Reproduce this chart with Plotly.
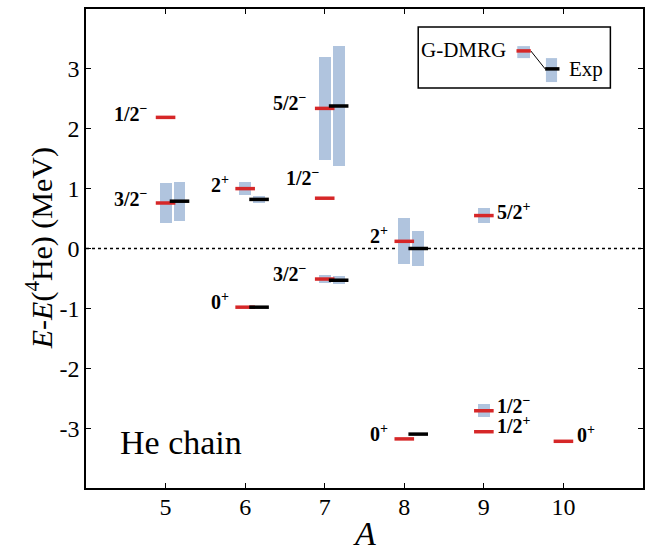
import plotly.graph_objects as go

# ---------------- data ----------------
# G-DMRG levels (MeV relative to 4He) and widths (full width, 0 = none shown)
dmrg_A = [5, 5, 6, 6, 7, 7, 7, 8, 8, 9, 9, 9, 10]
dmrg_E = [2.19, 0.76, 1.00, -0.98, 2.34, 0.84, -0.51, 0.12, -3.18, 0.55, -2.71, -3.06, -3.22]
dmrg_G = [0.0, 0.68, 0.21, 0.0, 1.73, 0.0, 0.14, 0.77, 0.0, 0.24, 0.21, 0.0, 0.0]

# Experimental levels and widths
exp_A = [5, 6, 6, 7, 7, 8, 8]
exp_E = [0.79, 0.82, -0.98, 2.38, -0.53, 0.00, -3.10]
exp_G = [0.65, 0.11, 0.0, 1.99, 0.14, 0.59, 0.0]

# State labels
label_text = ["1/2<sup>−</sup>", "3/2<sup>−</sup>", "2<sup>+</sup>", "0<sup>+</sup>",
              "5/2<sup>−</sup>", "1/2<sup>−</sup>", "3/2<sup>−</sup>", "2<sup>+</sup>",
              "0<sup>+</sup>", "5/2<sup>+</sup>", "1/2<sup>−</sup>", "1/2<sup>+</sup>", "0<sup>+</sup>"]
label_x = [4.80, 4.80, 5.82, 5.82, 6.80, 6.96, 6.80, 7.82, 7.82, 9.14, 9.14, 9.14, 10.14]
label_y = [2.27, 0.85, 1.08, -0.88, 2.44, 1.19, -0.41, 0.22, -3.08, 0.63, -2.62, -2.95, -3.09]
label_side = ["right"] * 9 + ["left"] * 4

x_ticks = [5, 6, 7, 8, 9, 10]
y_ticks = [-3, -2, -1, 0, 1, 2, 3]

# ---------------- style ----------------
RED = "#d62728"
BOX = "#b0c4de"
FONT = "Liberation Serif"
EXP_SHIFT = 0.175
BOX_W = 0.15
BAR_PX = 14

fig = go.Figure()

# width boxes
d_idx = [i for i, g in enumerate(dmrg_G) if g > 0]
fig.add_trace(go.Bar(
    x=[dmrg_A[i] for i in d_idx],
    y=[dmrg_G[i] for i in d_idx],
    base=[dmrg_E[i] - dmrg_G[i] / 2 for i in d_idx],
    width=BOX_W, marker=dict(color=BOX, line=dict(width=0)),
    showlegend=False, hoverinfo="skip"))
e_idx = [i for i, g in enumerate(exp_G) if g > 0]
fig.add_trace(go.Bar(
    x=[exp_A[i] + EXP_SHIFT for i in e_idx],
    y=[exp_G[i] for i in e_idx],
    base=[exp_E[i] - exp_G[i] / 2 for i in e_idx],
    width=BOX_W, marker=dict(color=BOX, line=dict(width=0)),
    showlegend=False, hoverinfo="skip"))

# zero line
fig.add_shape(type="line", x0=4, x1=11, y0=0, y1=0, xref="x", yref="y",
              line=dict(color="black", width=1.5, dash="dot"), layer="below")

# level bars
fig.add_trace(go.Scatter(
    x=dmrg_A, y=dmrg_E, mode="markers",
    marker=dict(symbol="line-ew", size=BAR_PX, line=dict(color=RED, width=3.5)),
    showlegend=False, hoverinfo="skip"))
fig.add_trace(go.Scatter(
    x=[a + EXP_SHIFT for a in exp_A], y=exp_E, mode="markers",
    marker=dict(symbol="line-ew", size=BAR_PX, line=dict(color="black", width=3.5)),
    showlegend=False, hoverinfo="skip"))

# labels
for t, x, y, s in zip(label_text, label_x, label_y, label_side):
    fig.add_annotation(x=x, y=y, text="<b>" + t + "</b>", showarrow=False,
                       xanchor=s, yanchor="middle",
                       font=dict(family=FONT, size=20, color="black"))

# He chain
fig.add_annotation(x=0.058, y=0.094, xref="paper", yref="paper", text="He chain",
                   showarrow=False, xanchor="left", yanchor="middle",
                   font=dict(family=FONT, size=34, color="black"))

# axis titles
fig.add_annotation(x=0.5, y=-0.052, xref="paper", yref="paper", text="<i>A</i>",
                   showarrow=False, xanchor="center", yanchor="top",
                   font=dict(family=FONT, size=34, color="black"))
fig.add_annotation(x=-0.083, y=0.5, xref="paper", yref="paper",
                   text="<i>E</i>-<i>E</i>(<sup>4</sup>He) (MeV)", textangle=-90,
                   showarrow=False, xanchor="center", yanchor="middle",
                   font=dict(family=FONT, size=30, color="black"))

# custom legend
fig.add_shape(type="rect", x0=8.175, x1=10.59, y0=2.68, y1=3.70,
              line=dict(color="black", width=1.5), fillcolor="white")
fig.add_shape(type="rect", x0=9.42, x1=9.58, y0=3.18, y1=3.38,
              line=dict(width=0), fillcolor=BOX)
fig.add_shape(type="rect", x0=9.78, x1=9.92, y0=2.78, y1=3.18,
              line=dict(width=0), fillcolor=BOX)
fig.add_shape(type="line", x0=9.59, x1=9.77, y0=3.30, y1=3.00,
              line=dict(color="black", width=1))
fig.add_shape(type="line", x0=9.41, x1=9.59, y0=3.30, y1=3.30,
              line=dict(color=RED, width=3.5))
fig.add_shape(type="line", x0=9.77, x1=9.95, y0=3.00, y1=3.00,
              line=dict(color="black", width=3.5))
fig.add_annotation(x=9.30, y=3.31, text="G-DMRG", showarrow=False,
                   xanchor="right", yanchor="middle",
                   font=dict(family=FONT, size=21, color="black"))
fig.add_annotation(x=10.05, y=2.99, text="Exp", showarrow=False,
                   xanchor="left", yanchor="middle",
                   font=dict(family=FONT, size=21, color="black"))

axis_common = dict(showgrid=False, zeroline=False, showline=True, linecolor="black",
                   linewidth=1.5, mirror="ticks", ticks="inside", ticklen=5,
                   tickwidth=1, tickcolor="black", automargin=False,
                   tickfont=dict(family=FONT, size=24, color="black"))

fig.update_layout(
    width=649, height=552,
    margin=dict(l=86, r=6, t=9, b=64),
    plot_bgcolor="white", paper_bgcolor="white",
    barmode="overlay", bargap=0,
    showlegend=False,
    xaxis=dict(range=[4, 11], tickvals=x_ticks, ticktext=[str(v) for v in x_ticks],
               ticklabelstandoff=-4, **axis_common),
    yaxis=dict(range=[-4, 4], tickvals=y_ticks, ticktext=[str(v) for v in y_ticks],
               **axis_common),
)

fig.write_html("out.html", config={"displayModeBar": False},
               post_script="document.body.style.margin='0';document.body.style.padding='0';")
